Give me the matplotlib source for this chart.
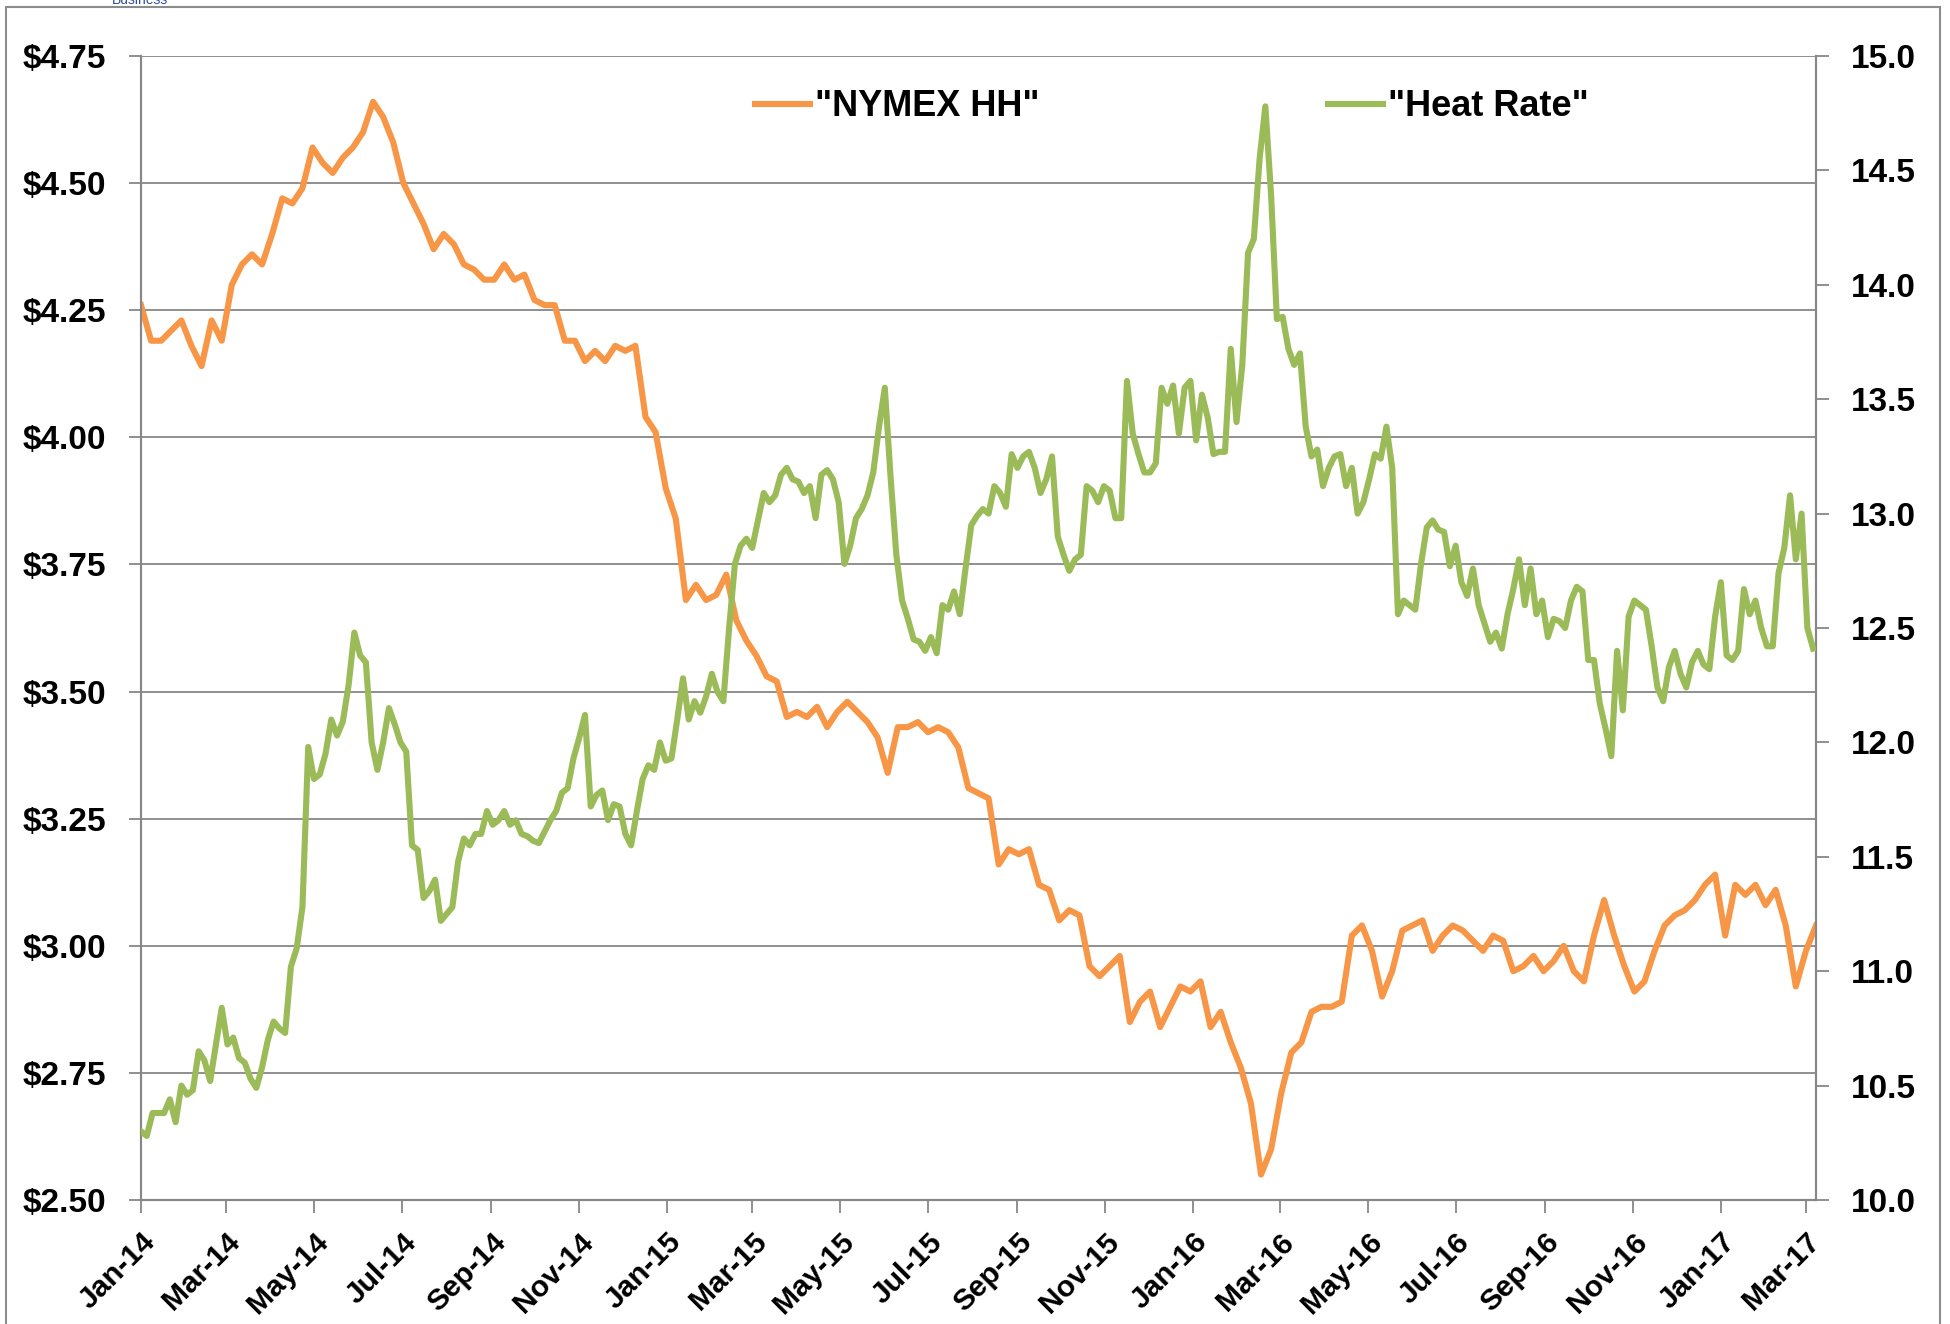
import matplotlib
matplotlib.use("Agg")
import matplotlib.pyplot as plt
import matplotlib.dates as mdates
import matplotlib.patches as patches
from matplotlib.ticker import FuncFormatter, MultipleLocator
import pandas as pd

# NYMEX Henry Hub, $/MMBtu, weekly readings from 2014-01-01
hh_values = [
    4.26, 4.19, 4.19, 4.21, 4.23, 4.18, 4.14, 4.23, 4.19, 4.30,
    4.34, 4.36, 4.34, 4.40, 4.47, 4.46, 4.49, 4.57, 4.54, 4.52,
    4.55, 4.57, 4.60, 4.66, 4.63, 4.58, 4.50, 4.46, 4.42, 4.37,
    4.40, 4.38, 4.34, 4.33, 4.31, 4.31, 4.34, 4.31, 4.32, 4.27,
    4.26, 4.26, 4.19, 4.19, 4.15, 4.17, 4.15, 4.18, 4.17, 4.18,
    4.04, 4.01, 3.90, 3.84, 3.68, 3.71, 3.68, 3.69, 3.73, 3.64,
    3.60, 3.57, 3.53, 3.52, 3.45, 3.46, 3.45, 3.47, 3.43, 3.46,
    3.48, 3.46, 3.44, 3.41, 3.34, 3.43, 3.43, 3.44, 3.42, 3.43,
    3.42, 3.39, 3.31, 3.30, 3.29, 3.16, 3.19, 3.18, 3.19, 3.12,
    3.11, 3.05, 3.07, 3.06, 2.96, 2.94, 2.96, 2.98, 2.85, 2.89,
    2.91, 2.84, 2.88, 2.92, 2.91, 2.93, 2.84, 2.87, 2.81, 2.76,
    2.69, 2.55, 2.60, 2.71, 2.79, 2.81, 2.87, 2.88, 2.88, 2.89,
    3.02, 3.04, 2.99, 2.90, 2.95, 3.03, 3.04, 3.05, 2.99, 3.02,
    3.04, 3.03, 3.01, 2.99, 3.02, 3.01, 2.95, 2.96, 2.98, 2.95,
    2.97, 3.00, 2.95, 2.93, 3.02, 3.09, 3.02, 2.96, 2.91, 2.93,
    2.99, 3.04, 3.06, 3.07, 3.09, 3.12, 3.14, 3.02, 3.12, 3.10,
    3.12, 3.08, 3.11, 3.04, 2.92, 2.99, 3.04,
]

# implied heat rate, readings every 4 days from 2014-01-01
hr_values = [
    10.30, 10.28, 10.38, 10.38, 10.38, 10.44, 10.34, 10.50, 10.46, 10.48,
    10.65, 10.61, 10.52, 10.68, 10.84, 10.68, 10.71, 10.62, 10.60, 10.53,
    10.49, 10.58, 10.70, 10.78, 10.75, 10.73, 11.02, 11.10, 11.28, 11.98,
    11.84, 11.86, 11.95, 12.10, 12.03, 12.09, 12.25, 12.48, 12.38, 12.35,
    12.00, 11.88, 12.00, 12.15, 12.08, 12.00, 11.96, 11.55, 11.53, 11.32,
    11.35, 11.40, 11.22, 11.25, 11.28, 11.48, 11.58, 11.55, 11.60, 11.60,
    11.70, 11.64, 11.66, 11.70, 11.64, 11.66, 11.60, 11.59, 11.57, 11.56,
    11.61, 11.66, 11.70, 11.78, 11.80, 11.93, 12.02, 12.12, 11.72, 11.77,
    11.79, 11.66, 11.73, 11.72, 11.60, 11.55, 11.70, 11.84, 11.90, 11.88,
    12.00, 11.92, 11.93, 12.10, 12.28, 12.10, 12.18, 12.13, 12.20, 12.30,
    12.22, 12.18, 12.50, 12.78, 12.86, 12.89, 12.85, 12.97, 13.09, 13.05,
    13.08, 13.17, 13.20, 13.15, 13.14, 13.09, 13.12, 12.98, 13.17, 13.19,
    13.15, 13.05, 12.78, 12.86, 12.98, 13.02, 13.08, 13.18, 13.38, 13.55,
    13.16, 12.82, 12.62, 12.54, 12.45, 12.44, 12.40, 12.46, 12.39, 12.60,
    12.58, 12.66, 12.56, 12.76, 12.95, 12.99, 13.02, 13.00, 13.12, 13.09,
    13.03, 13.26, 13.20, 13.25, 13.27, 13.20, 13.09, 13.15, 13.25, 12.90,
    12.82, 12.75, 12.80, 12.82, 13.12, 13.10, 13.05, 13.12, 13.10, 12.98,
    12.98, 13.58, 13.35, 13.26, 13.18, 13.18, 13.22, 13.55, 13.48, 13.56,
    13.35, 13.55, 13.58, 13.32, 13.52, 13.42, 13.26, 13.27, 13.27, 13.72,
    13.40, 13.65, 14.14, 14.20, 14.55, 14.78, 14.39, 13.85, 13.86, 13.72,
    13.65, 13.70, 13.38, 13.25, 13.28, 13.12, 13.20, 13.25, 13.26, 13.12,
    13.20, 13.00, 13.05, 13.15, 13.26, 13.24, 13.38, 13.20, 12.56, 12.62,
    12.60, 12.58, 12.78, 12.94, 12.97, 12.93, 12.92, 12.77, 12.86, 12.70,
    12.64, 12.76, 12.60, 12.52, 12.44, 12.48, 12.41, 12.56, 12.67, 12.80,
    12.60, 12.76, 12.56, 12.62, 12.46, 12.54, 12.53, 12.50, 12.62, 12.68,
    12.66, 12.36, 12.36, 12.17, 12.06, 11.94, 12.40, 12.14, 12.55, 12.62,
    12.60, 12.58, 12.42, 12.24, 12.18, 12.33, 12.40, 12.30, 12.24, 12.35,
    12.40, 12.34, 12.32, 12.55, 12.70, 12.38, 12.36, 12.40, 12.67, 12.56,
    12.62, 12.50, 12.42, 12.42, 12.74, 12.85, 13.08, 12.80, 13.00, 12.50,
    12.41,
]

hh_dates = pd.date_range("2014-01-01", periods=len(hh_values), freq="7D")
hr_dates = pd.date_range("2014-01-01", periods=len(hr_values), freq="4D")

hh_label = '"NYMEX HH"'
hr_label = '"Heat Rate"'

ORANGE = "#F79646"
GREEN = "#9BBB59"
GRID = "#878787"
FONT = ["Liberation Sans", "DejaVu Sans"]

plt.rcParams["font.family"] = FONT
plt.rcParams["font.weight"] = "bold"

fig = plt.figure(figsize=(19.5, 13.24), dpi=100)
fig.patch.set_facecolor("white")

ax = fig.add_axes([141 / 1950, 124 / 1324, 1675 / 1950, 1144 / 1324])
ax2 = ax.twinx()

l1, = ax.plot(hh_dates, hh_values, color=ORANGE, lw=4.4, solid_joinstyle="round",
              label=hh_label, zorder=3)
l2, = ax2.plot(hr_dates, hr_values, color=GREEN, lw=4.4, solid_joinstyle="round",
               label=hr_label, zorder=3)

ax.set_xlim(pd.Timestamp("2014-01-01"), pd.Timestamp("2017-03-08"))
ax.set_ylim(2.5, 4.75)
ax2.set_ylim(10.0, 15.0)

ax.yaxis.set_major_locator(MultipleLocator(0.25))
ax.yaxis.set_major_formatter(FuncFormatter(lambda v, p: "\\$%.2f" % v))
ax2.yaxis.set_major_locator(MultipleLocator(0.5))
ax2.yaxis.set_major_formatter(FuncFormatter(lambda v, p: "%.1f" % v))

ax.xaxis.set_major_locator(mdates.MonthLocator(bymonth=[1, 3, 5, 7, 9, 11]))
ax.xaxis.set_major_formatter(mdates.DateFormatter("%b-%y"))

ax.grid(axis="y", color=GRID, lw=1.3)
ax.set_axisbelow(True)

for a in (ax, ax2):
    a.spines["top"].set_visible(False)
    for s in ("left", "right", "bottom"):
        a.spines[s].set_color(GRID)
        a.spines[s].set_linewidth(1.5)

ax.tick_params(axis="y", direction="out", length=9, width=1.3, color=GRID,
               pad=16, labelsize=24)
ax2.tick_params(axis="y", direction="out", length=9, width=1.3, color=GRID,
                pad=16, labelsize=24)
ax.tick_params(axis="x", direction="out", length=9, width=1.3, color=GRID,
               pad=11, labelsize=21.5)
for lab in ax.get_xticklabels():
    lab.set_rotation(45)
    lab.set_ha("right")
    lab.set_va("top")
    lab.set_rotation_mode("anchor")
    lab.set_fontweight("bold")
for lab in ax.get_yticklabels() + ax2.get_yticklabels():
    lab.set_fontweight("bold")

leg = ax2.legend([l1, l2], [hh_label, hr_label], ncol=2, frameon=False,
                 loc="center left", bbox_to_anchor=(600 / 1675, 1 - 51 / 1144),
                 prop={"family": FONT, "weight": "bold", "size": 26},
                 handlelength=1.5, handletextpad=0.15, columnspacing=8.0,
                 borderaxespad=0)

# outer chart border and the cut-off caption above it
fig.patches.append(patches.Rectangle((6 / 1950, -0.02), 1934 / 1950, 1.02 - 7 / 1324,
                                     transform=fig.transFigure, fill=False,
                                     edgecolor="#8c8c8c", lw=1.5))
fig.text(112 / 1950, 1 - 4 / 1324, "Business", color="#2e4f9c", fontsize=10,
         fontweight="normal", va="baseline", ha="left")

fig.savefig("out.png", dpi=100, facecolor="white")
